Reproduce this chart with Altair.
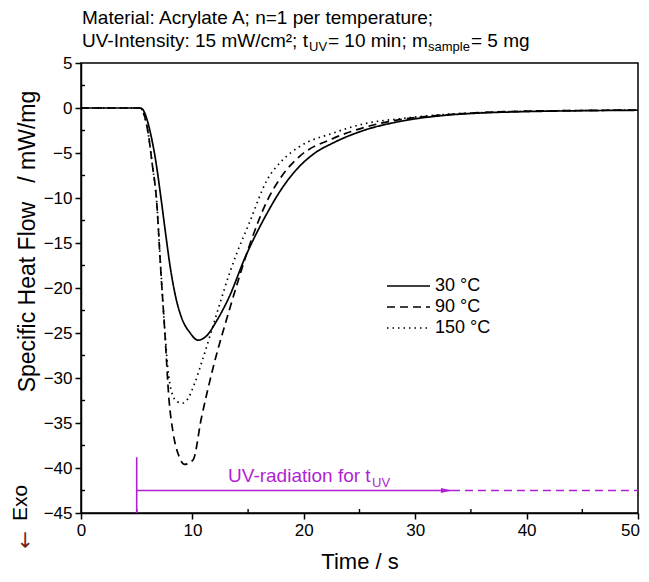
import altair as alt
import pandas as pd

# ---- data ----
series_labels = ["30 °C", "90 °C", "150 °C"]
dash_patterns = [[1, 0], [8, 5], [1.5, 4]]

time_30 = [0, 5.3, 5.5, 5.8, 6.2, 6.7, 7.2, 7.6, 8.0, 8.5, 9.0, 9.8, 10.5, 11.2, 12.2, 13.3,
           14.7, 16.7, 18.0, 19.6, 21.0, 22.6, 25.6, 28.6, 32.8, 36, 40, 45, 50]
flow_30 = [0, 0, -0.1, -0.8, -2.6, -5.8, -10.2, -14.0, -17.6, -21.0, -23.2, -25.0, -25.8, -25.4,
           -23.6, -21.0, -16.7, -11.7, -9.0, -6.5, -5.0, -3.9, -2.4, -1.5, -0.8, -0.55, -0.4, -0.3, -0.25]

time_90 = [0, 5.2, 5.4, 5.7, 6.03, 6.4, 6.78, 7.14, 7.53, 7.9, 8.27, 8.8, 9.3, 10.06, 10.8, 11.85,
           13.35, 14.25, 15.2, 16.6, 18.0, 19.6, 22.6, 25.6, 28.6, 32.8, 36, 40, 45, 50]
flow_90 = [0, 0, -0.1, -0.9, -2.8, -6.3, -10.2, -17.6, -25.0, -32.4, -36.1, -38.7, -39.6, -39.1,
           -34.5, -28.9, -22.3, -18.6, -15.0, -10.6, -7.6, -5.4, -3.4, -2.1, -1.3, -0.75, -0.5,
           -0.35, -0.28, -0.22]

time_150 = [0, 5.2, 5.4, 5.7, 6.03, 6.4, 6.78, 7.14, 7.5, 7.8, 8.1, 8.6, 9.1, 9.6, 10.2, 10.9,
            12.2, 13.35, 14.0, 15.1, 16.7, 18.0, 19.6, 22.6, 25.6, 28.6, 32.8, 36, 40, 45, 50]
flow_150 = [0, 0, -0.1, -0.9, -2.8, -6.3, -10.2, -17.4, -24.3, -29.0, -31.4, -32.6, -32.8, -32.3,
            -30.6, -28.0, -22.8, -18.3, -16.1, -12.8, -8.0, -5.9, -4.3, -2.8, -1.7, -1.2, -0.7,
            -0.5, -0.35, -0.28, -0.22]

x_major = [0, 10, 20, 30, 40, 50]
x_minor = [5, 15, 25, 35, 45]
y_major = [5, 0, -5, -10, -15, -20, -25, -30, -35, -40, -45]
y_minor = [2.5, -2.5, -7.5, -12.5, -17.5, -22.5, -27.5, -32.5, -37.5, -42.5]

uv_start = [5]
uv_bar_top = [-38.8]
uv_level = [-42.5]
uv_arrow_end = [33.3]
uv_head = [32.8]
uv_text_x = [13.2]
uv_text_y = [-41.6]

PURPLE = "#B01FD4"
FONT = "Liberation Sans"

rows = []
for lab, ts, vs in zip(series_labels, [time_30, time_90, time_150], [flow_30, flow_90, flow_150]):
    for t, v in zip(ts, vs):
        rows.append({"series": lab, "time": t, "flow": v})
df = pd.DataFrame(rows)

xs = alt.Scale(domain=[0, 50], nice=False, zero=False)
ys = alt.Scale(domain=[-45, 5], nice=False, zero=False)

lines = alt.Chart(df).mark_line(color="black", strokeWidth=1.7, interpolate="monotone").encode(
    x=alt.X("time:Q", scale=xs, axis=alt.Axis(
        values=x_major, title="Time / s", labelFlush=False,
        labelOffset={"condition": {"test": "datum.value === 50", "value": -8}, "value": 0},
        titleY=38, titleBaseline="top")),
    y=alt.Y("flow:Q", scale=ys, axis=alt.Axis(values=y_major, labelFlush=False,
                                              title="Specific Heat Flow\u00a0\u00a0 / mW/mg",
                                              titleFontSize=23,
                                              titleX=-54, titleY=178, titleAngle=270,
                                              titleBaseline="middle", titleAlign="center")),
    strokeDash=alt.StrokeDash("series:N", sort=series_labels,
                              scale=alt.Scale(domain=series_labels, range=dash_patterns),
                              legend=None),
)

y_minor_ticks = alt.Chart(pd.DataFrame({"flow": y_minor})).mark_rule(color="black", strokeWidth=1.4).encode(
    y=alt.Y("flow:Q", scale=ys), x=alt.value(0), x2=alt.value(4))
x_minor_ticks = alt.Chart(pd.DataFrame({"time": x_minor})).mark_rule(color="black", strokeWidth=1.4).encode(
    x=alt.X("time:Q", scale=xs), y=alt.value(450), y2=alt.value(446))

vbar = alt.Chart(pd.DataFrame({"time": uv_start, "flow": uv_bar_top, "flow2": [-45]})).mark_rule(
    color=PURPLE, strokeWidth=1.6).encode(x=alt.X("time:Q", scale=xs), y=alt.Y("flow:Q", scale=ys), y2="flow2:Q")
harrow = alt.Chart(pd.DataFrame({"time": uv_start, "time2": uv_arrow_end, "flow": uv_level})).mark_rule(
    color=PURPLE, strokeWidth=1.6).encode(x=alt.X("time:Q", scale=xs), x2="time2:Q", y=alt.Y("flow:Q", scale=ys))
hdash = alt.Chart(pd.DataFrame({"time": uv_arrow_end, "time2": [50], "flow": uv_level})).mark_rule(
    color=PURPLE, strokeWidth=1.6, strokeDash=[8, 5]).encode(x=alt.X("time:Q", scale=xs), x2="time2:Q",
                                                           y=alt.Y("flow:Q", scale=ys))
head = alt.Chart(pd.DataFrame({"time": uv_head, "flow": uv_level})).mark_point(
    shape="M-1,-0.45L1,0L-1,0.45Z", filled=True, size=120, color=PURPLE, opacity=1).encode(
    x=alt.X("time:Q", scale=xs), y=alt.Y("flow:Q", scale=ys))

uv_df = pd.DataFrame({"time": uv_text_x, "flow": uv_text_y})
uv_text = alt.Chart(uv_df).mark_text(text="UV-radiation for t", align="left", baseline="alphabetic",
                                     fontSize=19, font=FONT, color=PURPLE).encode(
    x=alt.X("time:Q", scale=xs), y=alt.Y("flow:Q", scale=ys))
uv_sub = alt.Chart(uv_df).mark_text(text="UV", align="left", baseline="alphabetic", dx=144, dy=5,
                                    fontSize=13, font=FONT, color=PURPLE).encode(
    x=alt.X("time:Q", scale=xs), y=alt.Y("flow:Q", scale=ys))

# ---- manual legend (line sample + label per series) ----
legend_layers = []
for i, (lab, dash) in enumerate(zip(series_labels, dash_patterns)):
    yy = 223 + 21 * i
    legend_layers.append(
        alt.Chart(pd.DataFrame({"a": [0]})).mark_rule(color="black", strokeWidth=1.6, strokeDash=dash).encode(
            x=alt.value(306), x2=alt.value(349), y=alt.value(yy)))
    legend_layers.append(
        alt.Chart(pd.DataFrame({"a": [0]})).mark_text(text=lab, align="left", baseline="middle",
                                                      fontSize=18, font=FONT, color="black").encode(
            x=alt.value(354), y=alt.value(yy)))

# ---- header text (two lines with sub/superscripts) ----
def txt(s, x, y, size=19, color="black", angle=0, align="left", baseline="alphabetic", font=FONT):
    return alt.Chart(pd.DataFrame({"a": [0]})).mark_text(
        text=s, align=align, baseline=baseline, fontSize=size, font=font, color=color, angle=angle
    ).encode(x=alt.value(x), y=alt.value(y))

hdr = [
    txt("Material: Acrylate A; n=1 per temperature;", 1, -39),
    txt("UV-Intensity: 15 mW/cm²; t", 1, -16),
    txt("UV", 228, -12, size=13),
    txt("= 10 min; m", 247, -16),
    txt("sample", 347, -12, size=13),
    txt("= 5 mg", 390, -16),
    txt("Exo", -54, 440, size=21, angle=270, align="center", baseline="alphabetic"),
    txt("←", -55, 477, size=21, color="#7A1F1F", angle=270, align="center", baseline="middle",
        font="DejaVu Sans"),
]

chart = alt.layer(y_minor_ticks, x_minor_ticks, vbar, harrow, hdash, head, uv_text, uv_sub,
                  lines, *legend_layers, *hdr).properties(
    width=557, height=450,
    autosize=alt.AutoSizeParams(type="none"),
    padding={"left": 73, "top": 55, "right": 3, "bottom": 61},
).configure(font=FONT).configure_view(stroke="black", strokeWidth=1.5).configure_axis(
    grid=False, domainColor="black", domainWidth=1.5, tickColor="black", tickWidth=1.5, tickSize=6,
    labelFontSize=17, labelColor="black", labelFont=FONT, labelPadding=3,
    titleFontSize=22, titleFontWeight="normal", titleColor="black", titleFont=FONT,
)

chart.save("out.html", embed_options={"renderer": "svg", "actions": False})
